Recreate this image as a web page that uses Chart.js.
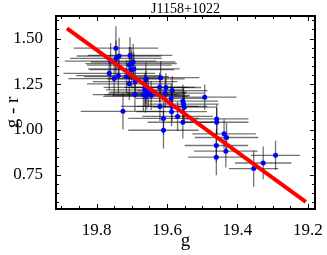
<!DOCTYPE html>
<html>
<head>
<meta charset="utf-8">
<script src="https://cdn.jsdelivr.net/npm/chart.js@4.4.0/dist/chart.umd.min.js"></script>
<style>
body{margin:0;background:#fff;}
#wrap{width:327px;height:255px;position:relative;}
</style>
</head>
<body>
<div id="wrap"><canvas id="graph_data"></canvas></div>
<script>
var chartTitle = "J1158+1022";
var gMag = [19.745,19.745,19.736,19.760,19.705,19.707,19.702,19.696,19.700,19.694,
    19.764,19.738,19.750,19.715,19.707,19.690,19.660,19.618,19.725,19.691,
    19.663,19.660,19.667,19.661,19.657,19.653,19.645,19.621,19.603,19.605,
    19.585,19.588,19.620,19.586,19.587,19.610,19.610,19.555,19.553,19.551,
    19.570,19.555,19.493,19.459,19.459,19.438,19.431,19.460,19.433,19.460,
    19.354,19.327,19.292];
var grColor = [1.447,1.391,1.404,1.376,1.407,1.354,1.362,1.371,1.329,1.333,
    1.309,1.296,1.280,1.291,1.251,1.263,1.278,1.285,1.100,1.192,
    1.218,1.232,1.191,1.182,1.200,1.205,1.187,1.232,1.231,1.200,
    1.214,1.171,1.127,1.127,1.098,1.061,0.996,1.156,1.140,1.123,
    1.072,1.040,1.178,1.058,1.040,0.976,0.956,0.912,0.881,0.848,
    0.785,0.816,0.858];
var gErr = [0.12,0.13,0.12,0.13,0.12,0.12,0.13,0.12,0.12,0.13,
    0.13,0.12,0.13,0.12,0.12,0.12,0.11,0.11,0.12,0.12,
    0.11,0.12,0.11,0.12,0.11,0.11,0.11,0.10,0.10,0.11,
    0.10,0.10,0.11,0.10,0.10,0.10,0.10,0.10,0.10,0.09,
    0.10,0.10,0.09,0.09,0.09,0.09,0.09,0.09,0.09,0.08,
    0.07,0.08,0.07];
var grErr = [0.12,0.10,0.10,0.10,0.10,0.10,0.09,0.10,0.10,0.09,
    0.09,0.10,0.09,0.09,0.09,0.09,0.09,0.09,0.10,0.09,
    0.09,0.09,0.09,0.09,0.09,0.08,0.08,0.08,0.08,0.08,
    0.08,0.08,0.08,0.08,0.08,0.09,0.10,0.09,0.09,0.08,
    0.08,0.09,0.07,0.08,0.08,0.08,0.08,0.09,0.09,0.10,
    0.10,0.09,0.08];
var fitG = [19.884, 19.206];
var fitGR = [1.556, 0.602];
var xTicks = [19.2, 19.4, 19.6, 19.8];
var yTicks = [0.75, 1.00, 1.25, 1.50];

var serif = "'Liberation Serif', 'DejaVu Serif', serif";

var points = gMag.map(function(g, i){ return {x: g, y: grColor[i]}; });
var fitLine = fitG.map(function(g, i){ return {x: g, y: fitGR[i]}; });

// error bars, drawn under the dots
var errorBars = {
    id: 'errorBars',
    beforeDatasetsDraw: function(chart){
        var ctx = chart.ctx, xs = chart.scales.x, ys = chart.scales.y, a = chart.chartArea;
        ctx.save();
        ctx.beginPath();
        ctx.rect(a.left, a.top, a.right - a.left, a.bottom - a.top);
        ctx.clip();
        ctx.strokeStyle = 'rgba(0,0,0,0.55)';
        ctx.lineWidth = 1.3;
        for(var i = 0; i < gMag.length; i++){
            var px = xs.getPixelForValue(gMag[i]);
            var py = ys.getPixelForValue(grColor[i]);
            ctx.beginPath();
            ctx.moveTo(xs.getPixelForValue(gMag[i] - gErr[i]), py);
            ctx.lineTo(xs.getPixelForValue(gMag[i] + gErr[i]), py);
            ctx.moveTo(px, ys.getPixelForValue(grColor[i] - grErr[i]));
            ctx.lineTo(px, ys.getPixelForValue(grColor[i] + grErr[i]));
            ctx.stroke();
        }
        ctx.restore();
    }
};

// mathematica style frame with inside ticks
var frame = {
    id: 'frame',
    afterDraw: function(chart){
        var ctx = chart.ctx, xs = chart.scales.x, ys = chart.scales.y, a = chart.chartArea;
        ctx.save();
        ctx.strokeStyle = '#000';
        ctx.lineWidth = 1;
        var v, p, len;
        for(var k = 383; k <= 399; k++){
            v = k / 20;
            p = Math.round(xs.getPixelForValue(v)) + 0.5;
            if(p < a.left || p > a.right) continue;
            len = (k % 4 == 0) ? 5 : 3;
            ctx.beginPath();
            ctx.moveTo(p, a.bottom); ctx.lineTo(p, a.bottom - len);
            ctx.moveTo(p, a.top); ctx.lineTo(p, a.top + len);
            ctx.stroke();
        }
        for(var j = 12; j <= 32; j++){
            v = j / 20;
            p = Math.round(ys.getPixelForValue(v)) + 0.5;
            if(p < a.top || p > a.bottom) continue;
            len = (j % 5 == 0) ? 5 : 3;
            ctx.beginPath();
            ctx.moveTo(a.left, p); ctx.lineTo(a.left + len, p);
            ctx.moveTo(a.right, p); ctx.lineTo(a.right - len, p);
            ctx.stroke();
        }
        ctx.lineWidth = 2;
        ctx.strokeRect(a.left, a.top, a.right - a.left, a.bottom - a.top);
        ctx.fillStyle = '#000';
        ctx.font = '14px ' + serif;
        ctx.textAlign = 'center';
        ctx.textBaseline = 'middle';
        ctx.fillText(chartTitle, (a.left + a.right) / 2, 9);
        ctx.restore();
    }
};

function graph(){
    var cfg = {
        type: 'scatter',
        data: {
            datasets: [{
                type: 'line',
                data: fitLine,
                borderColor: '#ff0000',
                borderWidth: 4,
                pointRadius: 0,
                fill: false,
                order: 0
            }, {
                data: points,
                backgroundColor: '#0000ff',
                borderColor: '#0000ff',
                pointRadius: 2.5,
                borderWidth: 0,
                order: 1
            }]
        },
        options: {
            responsive: true,
            maintainAspectRatio: false,
            animation: false,
            layout: {padding: {top: 16, right: 12, left: 0, bottom: 0}},
            plugins: {
                legend: {display: false},
                tooltip: {enabled: false},
                title: {display: false}
            },
            scales: {
                x: {
                    type: 'linear',
                    reverse: true,
                    min: 19.18,
                    max: 19.915,
                    grid: {display: false},
                    border: {display: false},
                    afterBuildTicks: function(s){ s.ticks = xTicks.map(function(v){ return {value: v}; }); },
                    afterFit: function(s){ s.height = 46; },
                    ticks: {
                        padding: 3,
                        color: '#000',
                        font: {family: serif, size: 17},
                        callback: function(v){ return Number(v).toFixed(1); }
                    },
                    title: {
                        display: true,
                        text: 'g',
                        color: '#000',
                        font: {family: serif, size: 19},
                        padding: {top: 0, bottom: 3}
                    }
                },
                y: {
                    type: 'linear',
                    min: 0.563,
                    max: 1.624,
                    grid: {display: false},
                    border: {display: false},
                    afterBuildTicks: function(s){ s.ticks = yTicks.map(function(v){ return {value: v}; }); },
                    afterFit: function(s){ s.width = 56; },
                    ticks: {
                        padding: 5,
                        color: '#000',
                        font: {family: serif, size: 17},
                        callback: function(v){ return Number(v).toFixed(2); }
                    },
                    title: {
                        display: true,
                        text: 'g - r',
                        color: '#000',
                        font: {family: serif, size: 19},
                        padding: {top: 2, bottom: 0}
                    }
                }
            }
        },
        plugins: [errorBars, frame]
    };
    chart = new Chart(document.getElementById('graph_data'), cfg);
}

graph();
</script>
</body>
</html>
